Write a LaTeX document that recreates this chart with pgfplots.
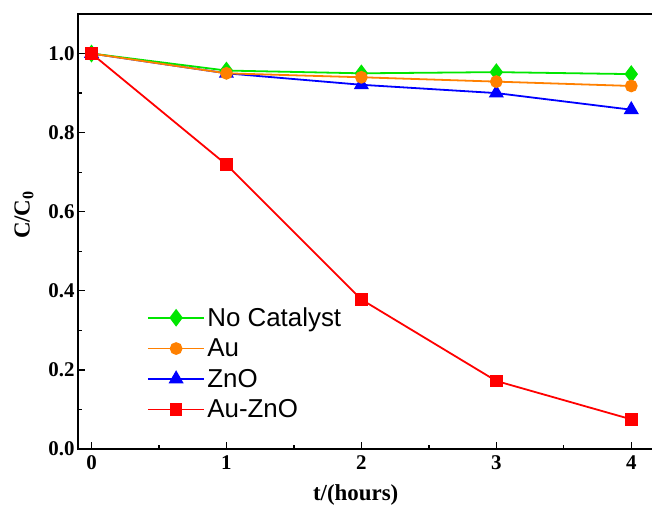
\documentclass[border=0pt]{standalone}
\usepackage{pgfplots}
\pgfplotsset{compat=1.18}
\usepackage{fontspec}
\setmainfont{Liberation Serif}
\newfontfamily\legfont{Liberation Sans}
\usetikzlibrary{calc}
\definecolor{cgreen}{RGB}{0,230,0}
\definecolor{corange}{RGB}{255,128,0}
\definecolor{cblue}{RGB}{0,0,255}
\definecolor{cred}{RGB}{255,0,0}
\begin{document}
\begin{tikzpicture}
\begin{axis}[
  scale only axis,
  width=587bp, height=435bp,
  xmin=-0.1, xmax=4.25,
  ymin=0, ymax=1.1,
  xtick={0,1,2,3,4},
  minor xtick={0.5,1.5,2.5,3.5},
  ytick={0,0.2,0.4,0.6,0.8,1.0},
  minor ytick={0.1,0.3,0.5,0.7,0.9},
  yticklabel style={/pgf/number format/fixed,/pgf/number format/fixed zerofill,/pgf/number format/precision=1},
  /pgf/number format/assume math mode=true,
  ticklabel style={font=\fontsize{21}{24}\selectfont\bfseries},
  xticklabel style={yshift=-3bp},
  xtick pos=left, ytick pos=left,
  tick align=inside,
  major tick length=7bp, minor tick length=4bp,
  tick style={black, line width=1.3pt},
  axis line style={line width=1.6pt},
  xlabel={\textbf{t/(hours)}},
  ylabel={\textbf{C/C\textsubscript{0}}},
  label style={font=\fontsize{23}{26}\selectfont},
  xlabel style={at={(axis description cs:0.473,0)}, anchor=base, yshift=-51bp},
  ylabel style={at={(axis description cs:-0.092,0.538)}, anchor=center},
  legend style={draw=none, fill=none, at={(rel axis cs:0.117,0.33)}, anchor=north west,
    font=\legfont\fontsize{26}{30}\selectfont, row sep=7bp,
    inner sep=0pt},
  legend cell align=left,
  legend image code/.code={
    \draw[mark=none] (0cm,0cm) -- (2cm,0cm);
    \draw plot coordinates {(1cm,0cm)};
  },
]
\addlegendimage{cgreen, line width=1.8pt, mark=diamond*, mark size=7.5pt}
\addlegendentry{No Catalyst}
\addlegendimage{corange, line width=1.8pt, mark=*, mark size=5.5pt}
\addlegendentry{Au}
\addlegendimage{cblue, line width=1.8pt, mark=triangle*, mark size=7pt}
\addlegendentry{ZnO}
\addlegendimage{cred, line width=1.8pt, mark=square*, mark size=5.5pt}
\addlegendentry{Au-ZnO}

\addplot[forget plot, cblue, line width=1.8pt, mark=triangle*, mark size=7pt]
  coordinates {(0,1.0) (1,0.950) (2,0.921) (3,0.900) (4,0.858)};
\addplot[forget plot, cgreen, line width=1.8pt, mark=diamond*, mark size=7.5pt]
  coordinates {(0,1.0) (1,0.957) (2,0.950) (3,0.953) (4,0.948)};
\addplot[forget plot, corange, line width=1.8pt, mark=*, mark size=5.5pt]
  coordinates {(0,1.0) (1,0.950) (2,0.940) (3,0.929) (4,0.918)};
\addplot[forget plot, cred, line width=1.8pt, mark=square*, mark size=5.5pt]
  coordinates {(0,1.0) (1,0.719) (2,0.378) (3,0.172) (4,0.075)};
\end{axis}
\pgfresetboundingbox
\path ($(current axis.south west)+(-78bp,-57bp)$) rectangle ($(current axis.south west)+(574bp,435bp+14bp)$);
\end{tikzpicture}
\end{document}
